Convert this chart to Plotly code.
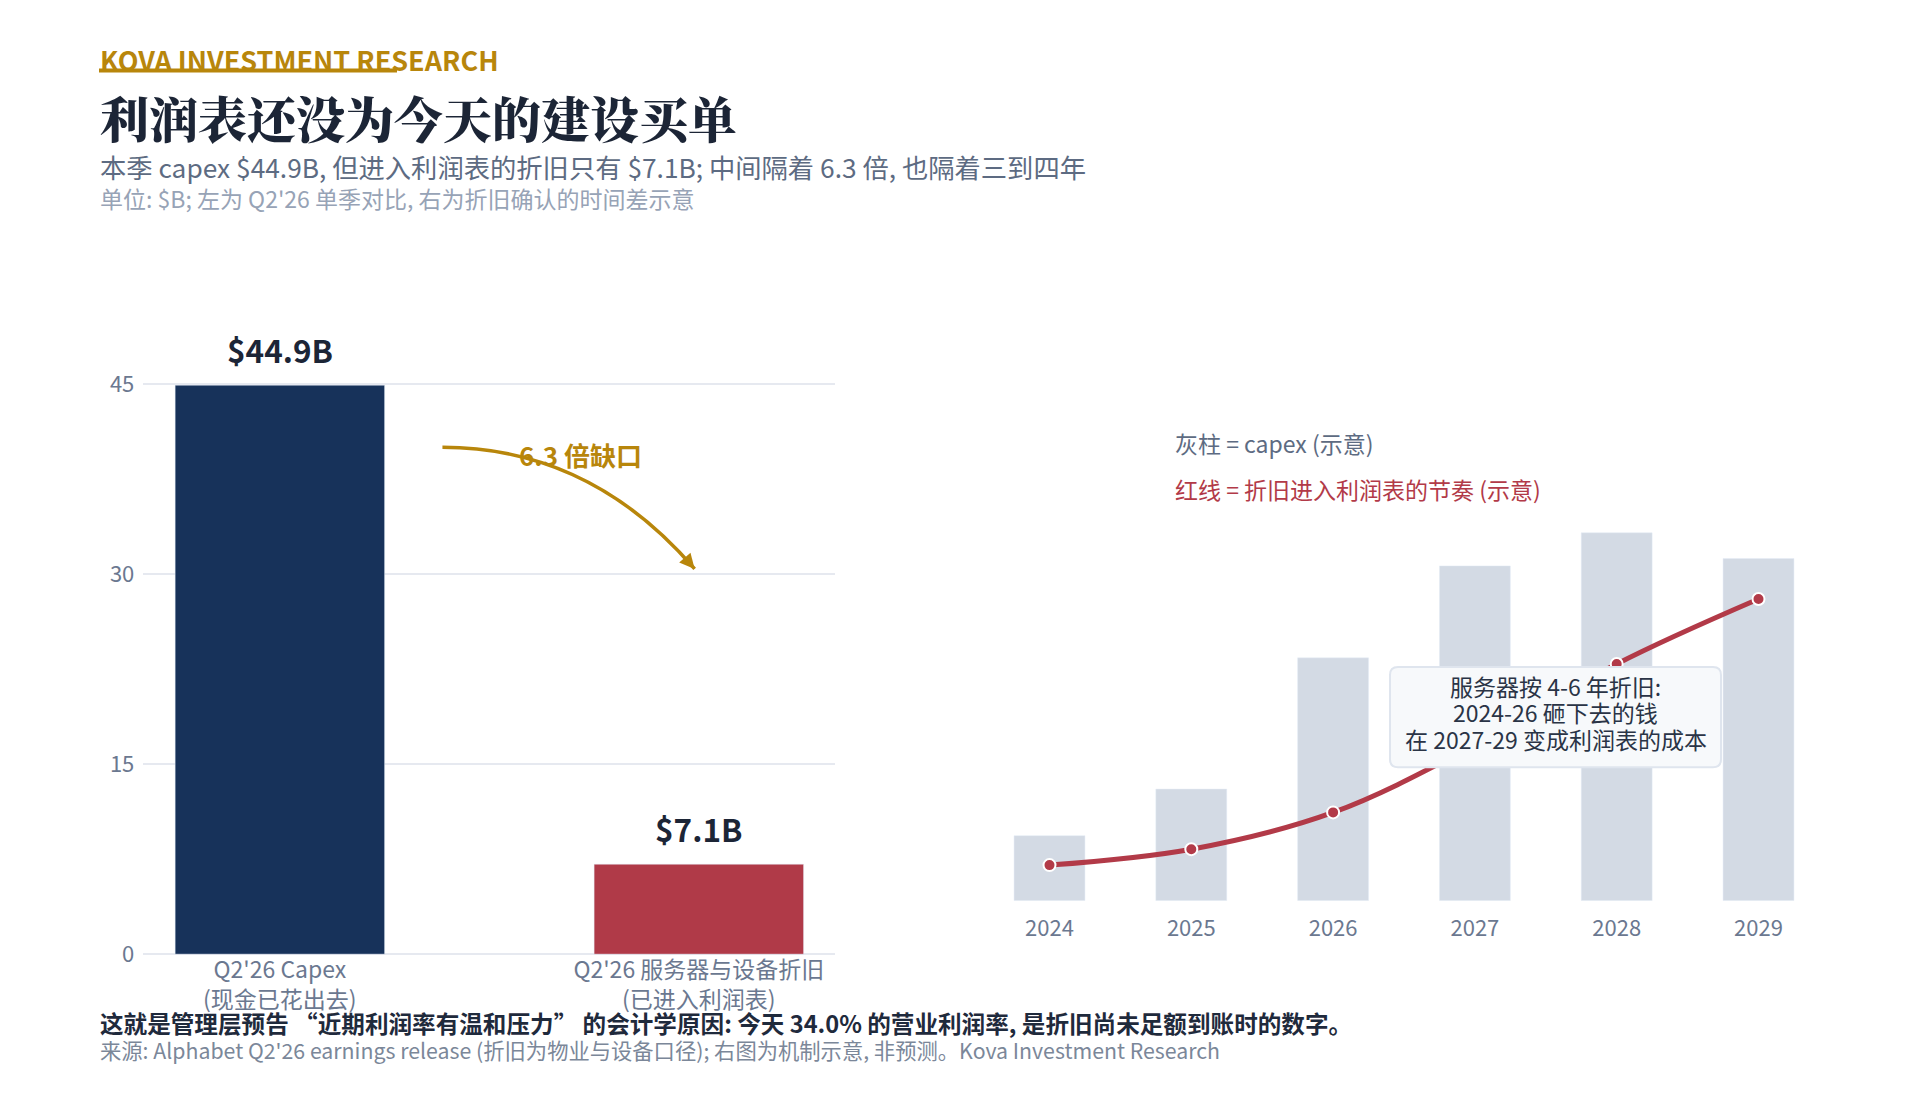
import plotly.graph_objects as go

# left panel: Q2'26 single-quarter comparison ($B)
quarter_cats = ["Q2'26 Capex<br>(现金已花出去)", "Q2'26 服务器与设备折旧<br>(已进入利润表)"]
quarter_vals = [44.9, 7.1]
quarter_labels = ["$44.9B", "$7.1B"]
quarter_colors = ["#17325a", "#b03a48"]

# right panel: illustrative timing (示意, not forecast)
years = [2024, 2025, 2026, 2027, 2028, 2029]
capex_illus = [53, 91, 198, 273, 300, 279]
dep_illus = [29, 42, 72, 127, 193, 246]

box_lines = ["服务器按 4-6 年折旧:", "2024-26 砸下去的钱", "在 2027-29 变成利润表的成本"]

FONT = "Noto Sans CJK SC"
SERIF = "Noto Serif CJK SC, Noto Serif CJK, Noto Sans CJK SC"
GOLD = "#b8860b"
NAVY_TXT = "#1c2536"
SLATE = "#5d6b82"
TICK = "#6b7890"
GRID = "#e6e9f0"
W, H = 1920, 1095
KY = 1.0145  # vertical stretch so the screenshot lines up with the reference


def px(x):
    return x / W


def py(y):
    return 1 - y * KY / H


def text_at(x, y, text, size, color, family=FONT, anchor="left", weight=None):
    font = dict(family=family, size=size, color=color)
    if weight:
        font["weight"] = weight
    return dict(x=px(x), y=py(y), xref="paper", yref="paper", xanchor=anchor, yanchor="middle",
                text=text, showarrow=False, font=font)


fig = go.Figure()

fig.add_trace(go.Bar(x=quarter_cats, y=quarter_vals, marker_color=quarter_colors,
                     width=0.5, xaxis="x", yaxis="y", hoverinfo="skip"))
fig.add_trace(go.Bar(x=years, y=capex_illus, marker_color="#d3dae4",
                     width=0.5, xaxis="x2", yaxis="y2", hoverinfo="skip"))
fig.add_trace(go.Scatter(x=years, y=dep_illus, mode="lines+markers", xaxis="x2", yaxis="y2",
                         line=dict(color="#b23a48", width=5, shape="spline"),
                         marker=dict(size=12, color="#b23a48", line=dict(color="white", width=2)),
                         hoverinfo="skip"))

annotations = []
# bar value labels
for c, v, t in zip(quarter_cats, quarter_vals, quarter_labels):
    annotations.append(dict(x=c, y=v, xref="x", yref="y", text="<b>%s</b>" % t, showarrow=False,
                            yshift=36.5, yanchor="middle", font=dict(family=FONT, size=31.5, color=NAVY_TXT)))

# gap label + arrow head
annotations.append(dict(x=0.718, y=39.45, xref="x", yref="y", text="<b>6.3 倍缺口</b>", showarrow=False,
                        yanchor="middle", font=dict(family=FONT, size=26, color=GOLD)))
annotations.append(dict(x=0.99, y=30.4, xref="x", yref="y", text="", showarrow=True,
                        ax=-9, ay=-10.4, arrowhead=2, arrowsize=1, arrowwidth=3, arrowcolor=GOLD))

# right panel key
annotations.append(text_at(1173, 442, "灰柱 = capex (示意)", 23, SLATE))
annotations.append(text_at(1173, 488, "红线 = 折旧进入利润表的节奏 (示意)", 23, "#b23a48"))

# note box (drawn as shape + one text per line)
for i, line in enumerate(box_lines):
    annotations.append(text_at(1555.5, 684.5 + 26.5 * i, line, 23, "#2a3446", anchor="center"))

# header
annotations.append(text_at(97.5, 59.5, "<b>KOVA INVESTMENT RESEARCH</b>", 27, GOLD))
annotations.append(text_at(97.5, 116.5, "利润表还没为今天的建设买单", 49, NAVY_TXT, family=SERIF, weight=900))
annotations.append(text_at(97.5, 166.5, "本季 capex $44.9B, 但进入利润表的折旧只有 $7.1B; 中间隔着 6.3 倍, 也隔着三到四年",
                           26.3, SLATE))
annotations.append(text_at(97.5, 197.5, "单位: $B; 左为 Q2'26 单季对比, 右为折旧确认的时间差示意", 23, "#97a3b6"))

# footer
annotations.append(text_at(97.5, 1021.5,
                           "<b>这就是管理层预告 “近期利润率有温和压力” 的会计学原因: 今天 34.0% 的营业利润率, 是折旧尚未足额到账时的数字。</b>",
                           23.6, "#1f2a3c"))
annotations.append(text_at(97.5, 1047.5,
                           "来源: Alphabet Q2'26 earnings release (折旧为物业与设备口径); 右图为机制示意, 非预测。Kova Investment Research",
                           21.3, "#7b8799"))


def rounded_box(x0, y0, x1, y1, r):
    X0, X1 = px(x0), px(x1)
    Y0, Y1 = py(y0), py(y1)
    rx, ry = r / W, r / H
    return ("M %f,%f L %f,%f Q %f,%f %f,%f L %f,%f Q %f,%f %f,%f L %f,%f Q %f,%f %f,%f "
            "L %f,%f Q %f,%f %f,%f Z" % (
                X0 + rx, Y0, X1 - rx, Y0, X1, Y0, X1, Y0 - ry, X1, Y1 + ry, X1, Y1, X1 - rx, Y1,
                X0 + rx, Y1, X0, Y1, X0, Y1 + ry, X0, Y0 - ry, X0, Y0, X0 + rx, Y0))


shapes = [
    dict(type="line", xref="paper", yref="paper", x0=px(99), x1=px(397), y0=py(70.5), y1=py(70.5),
         line=dict(color=GOLD, width=4)),
    dict(type="path", xref="x", yref="y", path="M 0.388,40 Q 0.74,40 0.99,30.4",
         line=dict(color=GOLD, width=3.5)),
    dict(type="path", xref="paper", yref="paper", path=rounded_box(1390, 666, 1721, 766, 8),
         fillcolor="#f7f9fb", line=dict(color="#dfe5ee", width=2), layer="above"),
]

fig.update_layout(
    width=W, height=H, margin=dict(l=0, r=0, t=0, b=0),
    paper_bgcolor="white", plot_bgcolor="white", showlegend=False,
    font=dict(family=FONT, color=TICK),
    annotations=annotations, shapes=shapes,
    xaxis=dict(domain=[px(143.3), px(835)], range=[-0.326, 1.325], type="category",
               showgrid=False, showline=False, ticks="", tickfont=dict(size=23, color=TICK)),
    yaxis=dict(domain=[py(952.7), py(358)], range=[0, 47], tickvals=[0, 15, 30, 45],
               showgrid=True, gridcolor=GRID, gridwidth=2, zeroline=True, zerolinecolor=GRID,
               zerolinewidth=2, showline=False, ticks="", tickfont=dict(size=22, color=TICK),
               ticklabelstandoff=8),
    xaxis2=dict(domain=[px(978.6), px(1829.4)], range=[2023.5, 2029.5], tickvals=years,
                showgrid=False, showline=False, zeroline=False, ticks="",
                tickfont=dict(size=22, color=TICK), ticklabelstandoff=12, anchor="y2"),
    yaxis2=dict(domain=[py(899.3), py(483)], range=[0, 340], visible=False, anchor="x2"),
)

fig.write_html("out.html", config={"displayModeBar": False},
               post_script="document.body.style.margin='0px';")
